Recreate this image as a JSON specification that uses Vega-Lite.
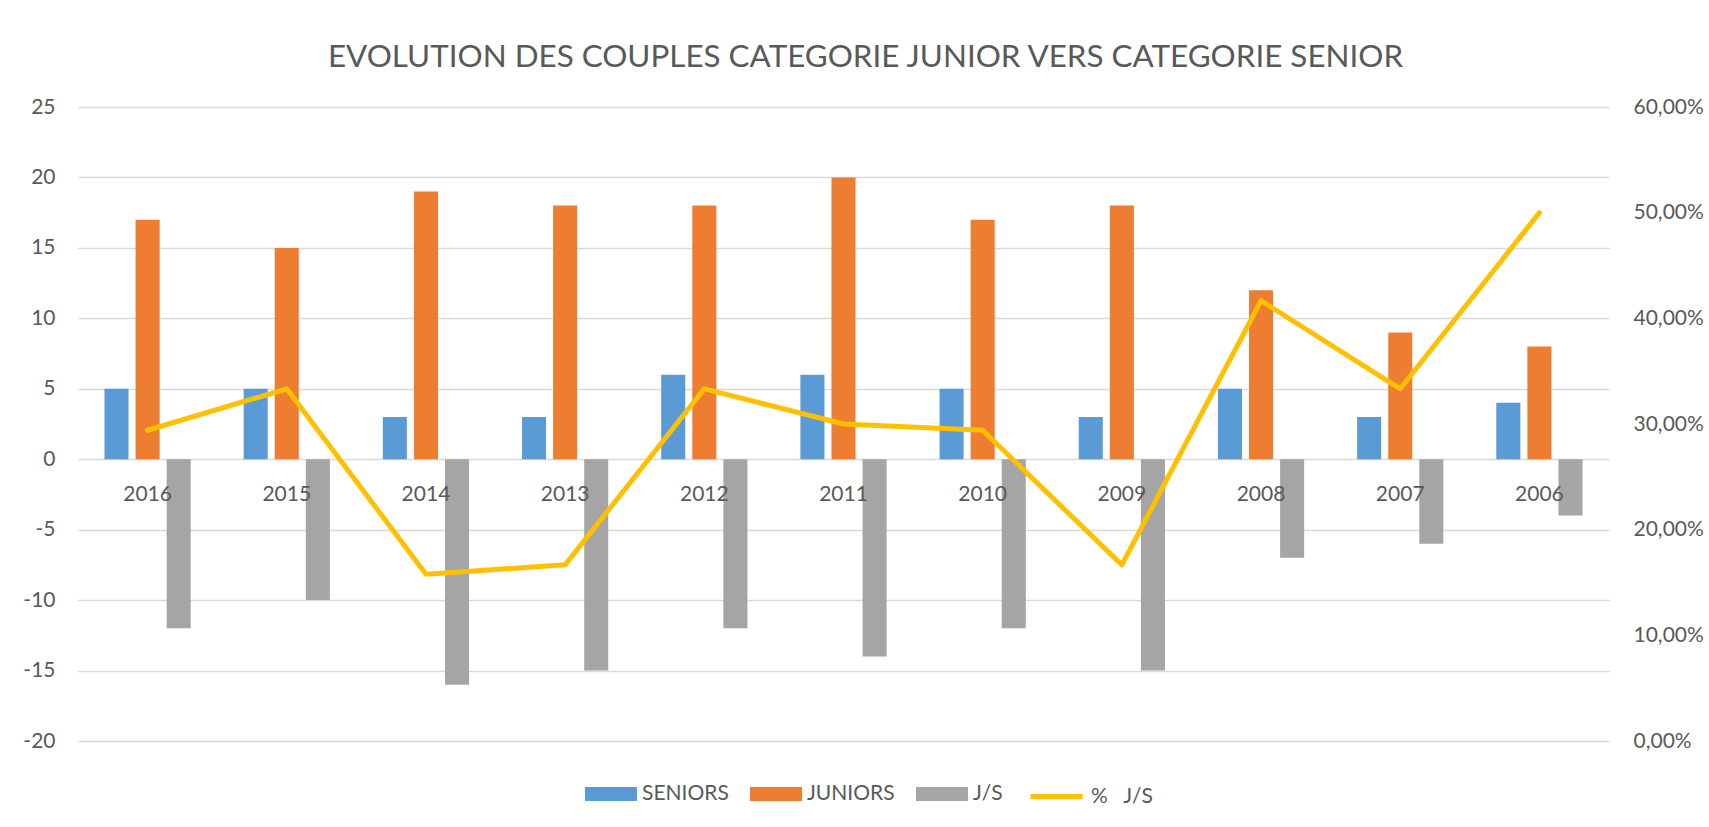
{
  "$schema": "https://vega.github.io/schema/vega-lite/v6.json",
  "autosize": "none",
  "width": 1531,
  "height": 634,
  "padding": {"left": 78, "top": 107, "right": 100, "bottom": 86},
  "background": "white",
  "title": {
    "text": "EVOLUTION DES COUPLES CATEGORIE JUNIOR VERS CATEGORIE SENIOR",
    "font": "Lato",
    "fontSize": 31.4,
    "fontWeight": "normal",
    "color": "#595959",
    "anchor": "middle",
    "frame": "group",
    "dx": 22,
    "baseline": "alphabetic",
    "offset": -2
  },
  "datasets": {
    "bars": [
      {"year": "2016", "series": "SENIORS", "value": 5},
      {"year": "2016", "series": "JUNIORS", "value": 17},
      {"year": "2016", "series": "J/S", "value": -12},
      {"year": "2015", "series": "SENIORS", "value": 5},
      {"year": "2015", "series": "JUNIORS", "value": 15},
      {"year": "2015", "series": "J/S", "value": -10},
      {"year": "2014", "series": "SENIORS", "value": 3},
      {"year": "2014", "series": "JUNIORS", "value": 19},
      {"year": "2014", "series": "J/S", "value": -16},
      {"year": "2013", "series": "SENIORS", "value": 3},
      {"year": "2013", "series": "JUNIORS", "value": 18},
      {"year": "2013", "series": "J/S", "value": -15},
      {"year": "2012", "series": "SENIORS", "value": 6},
      {"year": "2012", "series": "JUNIORS", "value": 18},
      {"year": "2012", "series": "J/S", "value": -12},
      {"year": "2011", "series": "SENIORS", "value": 6},
      {"year": "2011", "series": "JUNIORS", "value": 20},
      {"year": "2011", "series": "J/S", "value": -14},
      {"year": "2010", "series": "SENIORS", "value": 5},
      {"year": "2010", "series": "JUNIORS", "value": 17},
      {"year": "2010", "series": "J/S", "value": -12},
      {"year": "2009", "series": "SENIORS", "value": 3},
      {"year": "2009", "series": "JUNIORS", "value": 18},
      {"year": "2009", "series": "J/S", "value": -15},
      {"year": "2008", "series": "SENIORS", "value": 5},
      {"year": "2008", "series": "JUNIORS", "value": 12},
      {"year": "2008", "series": "J/S", "value": -7},
      {"year": "2007", "series": "SENIORS", "value": 3},
      {"year": "2007", "series": "JUNIORS", "value": 9},
      {"year": "2007", "series": "J/S", "value": -6},
      {"year": "2006", "series": "SENIORS", "value": 4},
      {"year": "2006", "series": "JUNIORS", "value": 8},
      {"year": "2006", "series": "J/S", "value": -4}
    ],
    "ratio": [
      {"year": "2016", "pct": 0.2941},
      {"year": "2015", "pct": 0.3333},
      {"year": "2014", "pct": 0.1579},
      {"year": "2013", "pct": 0.1667},
      {"year": "2012", "pct": 0.3333},
      {"year": "2011", "pct": 0.3},
      {"year": "2010", "pct": 0.2941},
      {"year": "2009", "pct": 0.1667},
      {"year": "2008", "pct": 0.4167},
      {"year": "2007", "pct": 0.3333},
      {"year": "2006", "pct": 0.5}
    ]
  },
  "encoding": {
    "x": {
      "field": "year",
      "type": "nominal",
      "scale": {
        "domain": ["2016", "2015", "2014", "2013", "2012", "2011", "2010", "2009", "2008", "2007", "2006"],
        "paddingInner": 0.33,
        "paddingOuter": 0.165
      },
      "axis": {
        "title": null,
        "orient": "bottom",
        "offset": -282,
        "domain": false,
        "ticks": false,
        "grid": false,
        "labelAngle": 0,
        "labelPadding": 24,
        "labelFontSize": 21,
        "labelColor": "#595959",
        "labelFont": "Lato",
        "zindex": 1
      }
    }
  },
  "layer": [
    {
      "data": {"name": "bars"},
      "mark": {"type": "bar"},
      "encoding": {
        "xOffset": {
          "field": "series",
          "type": "nominal",
          "scale": {"domain": ["SENIORS", "JUNIORS", "J/S"], "paddingInner": 0.226, "paddingOuter": 0.113}
        },
        "y": {
          "field": "value",
          "type": "quantitative",
          "scale": {"domain": [-20, 25], "nice": false},
          "axis": {
            "title": null,
            "orient": "left",
            "values": [-20, -15, -10, -5, 0, 5, 10, 15, 20, 25],
            "labelExpr": "'' + datum.value",
            "domain": false,
            "ticks": false,
            "labelPadding": 23,
            "labelFontSize": 21,
            "labelColor": "#595959",
            "labelFont": "Lato",
            "grid": true,
            "gridColor": "#D9D9D9",
            "gridWidth": 1.5
          }
        },
        "color": {
          "field": "series",
          "type": "nominal",
          "scale": {
            "domain": ["SENIORS", "JUNIORS", "J/S"],
            "range": ["#5B9BD5", "#ED7D31", "#A5A5A5"]
          },
          "legend": {
            "title": null,
            "orient": "none",
            "direction": "horizontal",
            "legendX": 507,
            "legendY": 661,
            "labelFontSize": 21,
            "labelFont": "Lato",
            "labelColor": "#595959",
            "labelOffset": 5,
            "columnPadding": 21,
            "symbolSize": 2704,
            "symbolType": "M-1,-0.27L1,-0.27L1,0.27L-1,0.27Z",
            "symbolStrokeWidth": 0
          }
        }
      }
    },
    {
      "data": {"name": "ratio"},
      "mark": {"type": "line", "strokeWidth": 5, "strokeCap": "round", "strokeJoin": "round"},
      "encoding": {
        "y": {
          "field": "pct",
          "type": "quantitative",
          "scale": {"domain": [0, 0.6], "nice": false},
          "axis": {
            "title": null,
            "orient": "right",
            "values": [0, 0.1, 0.2, 0.3, 0.4, 0.5, 0.6],
            "labelExpr": "replace(format(datum.value, '.2%'), '.', ',')",
            "domain": false,
            "ticks": false,
            "labelPadding": 24,
            "labelFontSize": 21,
            "labelColor": "#595959",
            "labelFont": "Lato",
            "grid": false
          }
        },
        "stroke": {
          "datum": "%\u00a0\u00a0\u00a0J/S",
          "type": "nominal",
          "scale": {"domain": ["%\u00a0\u00a0\u00a0J/S"], "range": ["#FFC000"]},
          "legend": {
            "title": null,
            "orient": "none",
            "legendX": 950,
            "legendY": 661,
            "labelFontSize": 21,
            "labelFont": "Lato",
            "labelColor": "#595959",
            "labelOffset": 6,
            "symbolType": "stroke",
            "symbolSize": 2704,
            "symbolStrokeWidth": 5
          }
        }
      }
    }
  ],
  "resolve": {"scale": {"y": "independent"}},
  "config": {
    "font": "Lato",
    "view": {"stroke": null}
  }
}
